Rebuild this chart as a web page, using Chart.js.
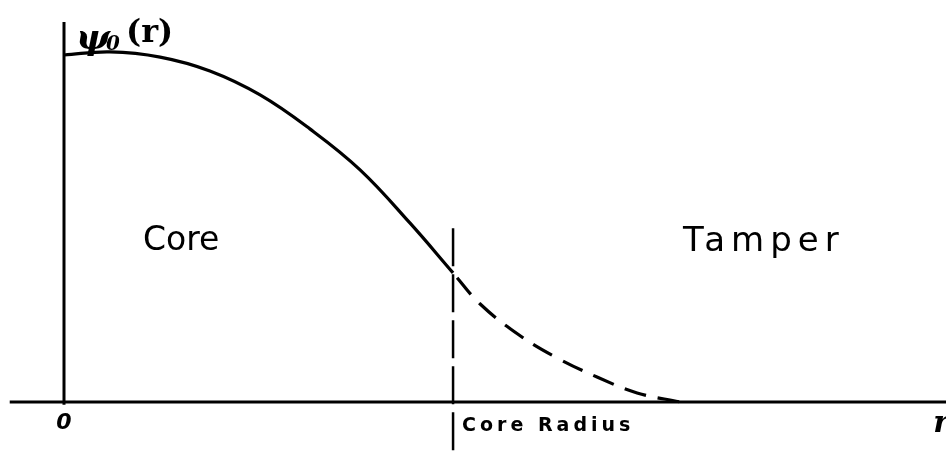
<!DOCTYPE html>
<html>
<head>
<meta charset="utf-8">
<script src="https://cdn.jsdelivr.net/npm/chart.js@4/dist/chart.umd.min.js"></script>
<style>
  html, body { margin: 0; padding: 0; background: #fff; }
  #wrap { width: 946px; height: 454px; position: relative; }
</style>
</head>
<body>
<div id="wrap"><canvas id="psiChart"></canvas></div>
<script>
// --- Data (r in units of core radius, psi normalised to psi(0) = 1) ---
const rCore = [0, 0.118, 0.247, 0.375, 0.504, 0.632, 0.761, 0.889, 1.0];
const psiCore = [1.0, 1.009, 0.994, 0.954, 0.885, 0.787, 0.669, 0.516, 0.372];
const rTamper = [1.0, 1.069, 1.167, 1.267, 1.370, 1.473, 1.584];
const psiTamper = [0.372, 0.283, 0.195, 0.127, 0.072, 0.026, 0.0];
const coreRadius = 1.0;
const axisTop = 1.095;

const xMin = -0.1645, xMax = 2.267;
const yMin = -0.15, yMax = 1.1585;

const pts = (xs, ys) => xs.map((x, i) => ({ x, y: ys[i] }));

// --- Text labels drawn at data coordinates ---
const textLabels = {
  id: "textLabels",
  afterDatasetsDraw(chart) {
    const { ctx, scales: { x, y } } = chart;
    const put = (txt, vx, vy, font, opts = {}) => {
      ctx.save();
      ctx.font = font;
      ctx.fillStyle = "#000";
      ctx.textAlign = opts.align || "left";
      ctx.textBaseline = "alphabetic";
      ctx.letterSpacing = opts.spacing || "0px";
      ctx.fillText(txt, x.getPixelForValue(vx) + (opts.dx || 0), y.getPixelForValue(vy) + (opts.dy || 0));
      ctx.restore();
    };
    // psi_0(r)
    put("\u03C8", 0, axisTop, "italic bold 36px 'DejaVu Serif'", { dx: 12, dy: 27 });
    put("0", 0, axisTop, "italic bold 20px 'DejaVu Serif'", { dx: 42, dy: 28 });
    put("(r)", 0, axisTop, "bold 32px 'DejaVu Serif'", { dx: 62, dy: 20 });
    put("Core", 0, 0, "33px 'DejaVu Sans'", { dx: 79, dy: -152 });
    put("Tamper", coreRadius, 0, "34px 'DejaVu Sans'", { dx: 230, dy: -151, spacing: "6px" });
    put("0", 0, 0, "italic bold 22px 'DejaVu Sans'", { align: "center", dy: 27 });
    put("Core Radius", coreRadius, 0, "bold 19px 'DejaVu Sans'", { dx: 9, dy: 29, spacing: "4px" });
    put("r", xMax, 0, "italic bold 30px 'DejaVu Serif'", { align: "right", dx: 3, dy: 30 });
  }
};

new Chart(document.getElementById("psiChart"), {
  type: "line",
  data: {
    datasets: [
      { // x axis
        data: [{ x: xMin + 0.025, y: 0 }, { x: xMax, y: 0 }],
        borderColor: "#000", borderWidth: 3, pointRadius: 0
      },
      { // y axis
        data: [{ x: 0, y: -0.008 }, { x: 0, y: axisTop }],
        borderColor: "#000", borderWidth: 3, pointRadius: 0
      },
      { // core boundary
        data: [{ x: coreRadius, y: 0.501 }, { x: coreRadius, y: yMin }],
        borderColor: "#000", borderWidth: 2.5, borderDash: [38, 8], pointRadius: 0
      },
      { // psi in core
        data: pts(rCore, psiCore),
        borderColor: "#000", borderWidth: 3.2, pointRadius: 0, tension: 0.4
      },
      { // psi in tamper
        data: pts(rTamper, psiTamper),
        borderColor: "#000", borderWidth: 3.2, pointRadius: 0, tension: 0.4,
        borderDash: [22, 12], borderDashOffset: -6
      }
    ]
  },
  options: {
    responsive: true,
    maintainAspectRatio: false,
    animation: false,
    layout: { padding: 0 },
    plugins: { legend: { display: false }, tooltip: { enabled: false } },
    elements: { line: { borderCapStyle: "butt", fill: false } },
    scales: {
      x: { type: "linear", min: xMin, max: xMax, display: false },
      y: { type: "linear", min: yMin, max: yMax, display: false }
    }
  },
  plugins: [textLabels]
});
</script>
</body>
</html>
